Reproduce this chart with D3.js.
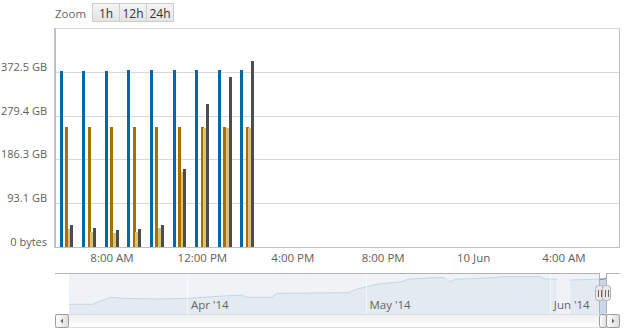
<!DOCTYPE html>
<head>
  <meta charset="utf-8">
  <script src="https://d3js.org/d3.v7.min.js"></script>
  <style>
    body { margin:0; background:#fff; }

    text {
      font-family: 'Open Sans', sans-serif;
      font-size: 11px;
      fill: #606060;
    }

    .x-axis path, .y-axis path { display: none; }

    .grid-line {
      stroke: #d8d8d8;
      shape-rendering: crispEdges;
    }

    .axis-line {
      stroke: #c0c0c0;
      shape-rendering: crispEdges;
    }

    .bar { shape-rendering: crispEdges; }

    .zoom-btn rect {
      stroke: #cccccc;
      shape-rendering: crispEdges;
    }

    .zoom-btn text {
      font-size: 12px;
      fill: #333;
      text-anchor: middle;
    }

    .nav-outline {
      fill: none;
      stroke: #b2b1b6;
      shape-rendering: crispEdges;
    }

    .nav-label { fill: #666; font-size: 11.5px; }

    .handle rect { fill: #ebe7e8; stroke: #b2b1b6; }
    .handle line { stroke: #666; shape-rendering: crispEdges; }

    .scroll-btn rect, .scroll-thumb { stroke: #9a9a9a; }
    .scroll-btn path { fill: #666; }
  </style>
</head>

<body>
  <script>
    // hourly points shown in the zoomed window
    var hours = ["2014-06-09 06:00", "2014-06-09 07:00", "2014-06-09 08:00",
                 "2014-06-09 09:00", "2014-06-09 10:00", "2014-06-09 11:00",
                 "2014-06-09 12:00", "2014-06-09 13:00", "2014-06-09 14:00"];

    // bytes
    var total     = [4.03e11, 4.03e11, 4.03e11, 4.05e11, 4.05e11, 4.05e11, 4.05e11, 4.05e11, 4.05e11];
    var allocated = [2.75e11, 2.75e11, 2.75e11, 2.75e11, 2.75e11, 2.75e11, 2.75e11, 2.75e11, 2.75e11];
    var used      = [0.42e11, 0.35e11, 0.33e11, 0.35e11, 0.44e11, 1.72e11, 2.73e11, 2.73e11, 2.73e11];
    var written   = [0.51e11, 0.45e11, 0.40e11, 0.42e11, 0.51e11, 1.79e11, 3.28e11, 3.89e11, 4.26e11];

    // column slots per hour (the "free" series has no points in this window)
    var slotNames = ["total", "free", "allocated", "used", "written"];

    var yTicks = [0, 1e11, 2e11, 3e11, 4e11, 5e11];
    var yTickLabels = ["0 bytes", "93.1 GB", "186.3 GB", "279.4 GB", "372.5 GB", ""];

    var xTicks = ["2014-06-09 08:00", "2014-06-09 12:00", "2014-06-09 16:00",
                  "2014-06-09 20:00", "2014-06-10 00:00", "2014-06-10 04:00"];
    var xTickLabels = ["8:00 AM", "12:00 PM", "4:00 PM", "8:00 PM", "10 Jun", "4:00 AM"];

    var zoomButtons = ["1h", "12h", "24h"];

    // navigator series (GB), null = gap
    var navDates = ["2014-03-12 00:00", "2014-03-16 00:00", "2014-03-18 00:00", "2014-03-19 00:00",
                    "2014-03-21 00:00", "2014-03-27 00:00", "2014-04-01 00:00", "2014-04-07 00:00",
                    "2014-04-10 00:00", "2014-04-11 00:00", "2014-04-15 00:00", "2014-04-16 00:00",
                    "2014-04-28 00:00", "2014-04-29 00:00", "2014-05-01 00:00", "2014-05-03 00:00",
                    "2014-05-07 00:00", "2014-05-08 00:00", "2014-05-12 00:00", "2014-05-14 00:00",
                    "2014-05-15 00:00", "2014-05-16 00:00", "2014-05-21 00:00", "2014-05-25 00:00",
                    "2014-05-30 00:00", "2014-05-31 00:00", "2014-06-02 00:00", "2014-06-03 00:00",
                    "2014-06-04 00:00", "2014-06-04 06:00", "2014-06-10 00:00", "2014-06-10 06:30"];
    var navValues = [958, 958, 1452, 1649, 1551, 1481, 1551, 1778,
                     1877, 1649, 1649, 2044, 2104, 2370, 2696, 2963,
                     3190, 3427, 3585, 3585, 3190, 3427, 3556, 3704,
                     3704, 3457, 3427, null, null, 3358, 3457, 3556];

    var navTicks = ["2014-04-01 00:00", "2014-05-01 00:00", "2014-06-01 00:00"];
    var navTickLabels = ["Apr '14", "May '14", "Jun '14"];

    var colours = {total: "#0069aa", allocated: "#a67000", used: "#d9c27a", written: "#4d4d4d"};

    var parseTime = d3.timeParse("%Y-%m-%d %H:%M");

    var width = 625, height = 329;
    var plot = {left: 55, top: 28.5, right: 620, bottom: 247.5};
    var nav = {left: 69, right: 606, top: 273.5, bottom: 314};
    var scrollH = 14;

    var svg = d3.select("body").append("svg")
        .attr("width", width)
        .attr("height", height);

    var x = d3.scaleTime()
      .domain([parseTime("2014-06-09 05:30"), parseTime("2014-06-10 06:30")])
      .range([plot.left, plot.right]);

    var y = d3.scaleLinear()
      .domain([0, 5e11])
      .range([plot.bottom, plot.top]);

    var crisp = function(v) { return Math.floor(v) + 0.5; };

    // ---- range selector
    svg.append("text")
      .attr("x", 55)
      .attr("y", 17.5)
      .style("fill", "#666")
      .style("font-size", "11.5px")
      .text("Zoom");

    var btnGrad = svg.append("defs").append("linearGradient")
      .attr("id", "btn-grad")
      .attr("x1", 0).attr("y1", 0).attr("x2", 0).attr("y2", 1);
    btnGrad.append("stop").attr("offset", 0).attr("stop-color", "#f4f4f4");
    btnGrad.append("stop").attr("offset", 1).attr("stop-color", "#e4e4e4");

    var btns = svg.append("g").selectAll("g")
      .data(zoomButtons)
      .enter().append("g")
        .attr("class", "zoom-btn")
        .attr("transform", (d, i) => "translate(" + (92.5 + i * 27) + ",3.5)");
    btns.append("rect")
      .attr("width", 27)
      .attr("height", 18)
      .attr("fill", "url(#btn-grad)");
    btns.append("text")
      .attr("x", 13.5)
      .attr("y", 14)
      .text(d => d);

    // ---- grid
    svg.append("g").selectAll("line")
      .data(yTicks)
      .enter().append("line")
        .attr("class", "grid-line")
        .attr("x1", plot.left)
        .attr("x2", plot.right)
        .attr("y1", d => crisp(y(d)))
        .attr("y2", d => crisp(y(d)));

    svg.append("line")
      .attr("class", "axis-line")
      .attr("x1", plot.right - 0.5).attr("x2", plot.right - 0.5)
      .attr("y1", plot.top).attr("y2", plot.bottom);

    var yAxis = d3.axisLeft(y)
      .tickValues(yTicks)
      .tickFormat((d, i) => yTickLabels[i])
      .tickSize(0)
      .tickPadding(8);

    svg.append("g")
      .attr("class", "y-axis")
      .attr("transform", "translate(" + plot.left + ",0)")
      .call(yAxis)
      .selectAll("text")
        .attr("dy", "-2px")
        .style("font-size", "11px")
        .style("font-family", "'Open Sans', sans-serif")
        .style("fill", "#606060");

    // ---- columns
    var hourPx = x(parseTime(hours[1])) - x(parseTime(hours[0]));
    var slot = d3.scaleBand()
      .domain(slotNames)
      .range([-hourPx * 0.3, hourPx * 0.3]);

    var series = [
      {name: "total", values: total},
      {name: "allocated", values: allocated},
      {name: "used", values: used},
      {name: "written", values: written}
    ];

    var bars = svg.append("g").selectAll("g")
      .data(series)
      .enter().append("g")
        .style("fill", d => colours[d.name]);

    bars.selectAll("rect")
      .data(d => d.values.map((v, i) => ({name: d.name, time: parseTime(hours[i]), value: v})))
      .enter().append("rect")
        .attr("class", "bar")
        .attr("x", d => Math.round(x(d.time) + slot(d.name)))
        .attr("width", 3)
        .attr("y", d => Math.round(y(d.value)))
        .attr("height", d => plot.bottom + 0.5 - Math.round(y(d.value)));

    // axis lines on top of bars
    svg.append("line")
      .attr("class", "axis-line")
      .attr("x1", plot.left).attr("x2", plot.right)
      .attr("y1", plot.bottom).attr("y2", plot.bottom);

    svg.append("line")
      .attr("class", "axis-line")
      .style("stroke-width", 2)
      .attr("x1", plot.left).attr("x2", plot.left)
      .attr("y1", plot.top - 0.5).attr("y2", plot.bottom + 0.5);

    var xAxis = d3.axisBottom(x)
      .tickValues(xTicks.map(parseTime))
      .tickFormat((d, i) => xTickLabels[i])
      .tickSize(0)
      .tickPadding(6);

    svg.append("g")
      .attr("class", "x-axis")
      .attr("transform", "translate(0," + plot.bottom + ")")
      .call(xAxis)
      .selectAll("text")
        .style("font-size", "11.5px")
        .style("font-family", "'Open Sans', sans-serif")
        .style("fill", "#606060");

    // ---- navigator
    var nx = d3.scaleTime()
      .domain([parseTime(navDates[0]), parseTime(navDates[navDates.length - 1])])
      .range([nav.left, nav.right]);

    var ny = d3.scaleLinear()
      .domain([0, 4000])
      .range([nav.bottom, nav.top]);

    var navData = navDates.map((d, i) => ({date: parseTime(d), value: navValues[i]}));

    var area = d3.area()
      .defined(d => d.value !== null)
      .x(d => nx(d.date))
      .y0(nav.bottom)
      .y1(d => ny(d.value));

    var navLine = d3.line()
      .defined(d => d.value !== null)
      .x(d => nx(d.date))
      .y(d => ny(d.value));

    svg.append("path")
      .datum(navData)
      .attr("d", area)
      .style("fill", "#c9d7e8");

    svg.append("path")
      .datum(navData)
      .attr("d", navLine)
      .style("fill", "none")
      .style("stroke", "#4572a7")
      .style("stroke-width", 1);

    var zoomMin = nx(x.domain()[0]);
    var zoomMax = nx(x.domain()[1]);

    svg.append("rect")
      .attr("x", nav.left)
      .attr("y", nav.top)
      .attr("width", zoomMin - nav.left)
      .attr("height", nav.bottom - nav.top)
      .style("fill", "rgba(235,239,245,0.78)");

    svg.append("g").selectAll("line")
      .data(navTicks.map(parseTime))
      .enter().append("line")
        .attr("x1", d => crisp(nx(d))).attr("x2", d => crisp(nx(d)))
        .attr("y1", nav.top).attr("y2", nav.bottom)
        .style("stroke", "rgba(255,255,255,0.55)");

    svg.append("g").selectAll("text")
      .data(navTicks)
      .enter().append("text")
        .attr("class", "nav-label")
        .attr("x", d => nx(parseTime(d)) + 3)
        .attr("y", 308.5)
        .text((d, i) => navTickLabels[i]);

    var zMin = crisp(zoomMin), zMax = crisp(zoomMax);
    svg.append("path")
      .attr("class", "nav-outline")
      .attr("d", "M" + plot.left + "," + nav.top + "L" + zMin + "," + nav.top +
                 "L" + zMin + "," + nav.bottom +
                 "M" + zMax + "," + nav.bottom + "L" + zMax + "," + nav.top +
                 "L" + plot.right + "," + nav.top);

    // ---- scrollbar
    var trackGrad = svg.select("defs").append("linearGradient")
      .attr("id", "track-grad")
      .attr("x1", 0).attr("y1", 0).attr("x2", 0).attr("y2", 1);
    trackGrad.append("stop").attr("offset", 0).attr("stop-color", "#eeeeee");
    trackGrad.append("stop").attr("offset", 1).attr("stop-color", "#ffffff");

    var barGrad = svg.select("defs").append("linearGradient")
      .attr("id", "bar-grad")
      .attr("x1", 0).attr("y1", 0).attr("x2", 1).attr("y2", 0);
    barGrad.append("stop").attr("offset", 0).attr("stop-color", "#ffffff");
    barGrad.append("stop").attr("offset", 1).attr("stop-color", "#dddddd");

    svg.append("rect")
      .attr("x", plot.left + 0.5)
      .attr("y", nav.bottom + 0.5)
      .attr("width", plot.right - plot.left - 1)
      .attr("height", scrollH - 1)
      .style("fill", "url(#track-grad)")
      .style("stroke", "#dddddd");

    svg.append("rect")
      .attr("class", "scroll-thumb")
      .attr("x", zMin)
      .attr("y", nav.bottom + 0.5)
      .attr("width", Math.max(zMax - zMin, 6))
      .attr("height", scrollH - 1)
      .attr("rx", 2)
      .style("fill", "url(#bar-grad)");

    var scrollBtns = svg.append("g").selectAll("g")
      .data([{x: plot.left, dir: -1}, {x: nav.right, dir: 1}])
      .enter().append("g")
        .attr("class", "scroll-btn")
        .attr("transform", d => "translate(" + d.x + "," + nav.bottom + ")");
    scrollBtns.append("rect")
      .attr("x", 0.5).attr("y", 0.5)
      .attr("width", scrollH - 1).attr("height", scrollH - 1)
      .attr("rx", 2)
      .style("fill", "url(#bar-grad)");
    scrollBtns.append("path")
      .attr("d", d => d.dir < 0 ? "M5.5,7L8,4.5L8,9.5Z" : "M8.5,7L6,4.5L6,9.5Z");

    // ---- handles
    var handles = svg.append("g").selectAll("g")
      .data([zMin, zMax])
      .enter().append("g")
        .attr("class", "handle")
        .attr("transform", d => "translate(" + d + "," + (nav.top + 12) + ")");
    handles.append("rect")
      .attr("x", -4).attr("y", 0)
      .attr("width", 8).attr("height", 15)
      .attr("rx", 3);
    handles.selectAll("line")
      .data([-1.5, 1.5])
      .enter().append("line")
        .attr("x1", d => d).attr("x2", d => d)
        .attr("y1", 4).attr("y2", 11);
  </script>
</body>
